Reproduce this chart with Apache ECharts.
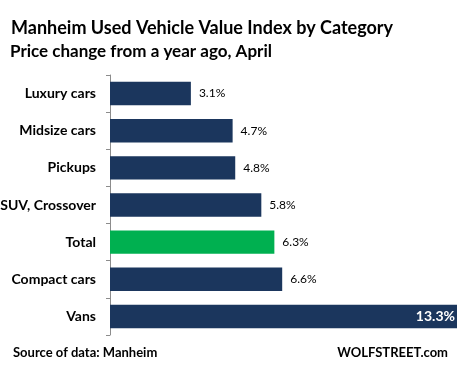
<!DOCTYPE html>
<html>
<head>
<meta charset="utf-8">
<script src="https://cdn.jsdelivr.net/npm/echarts@6/dist/echarts.min.js"></script>
<style>
  html, body { margin: 0; padding: 0; background: #fff; }
  #main { width: 467px; height: 376px; }
</style>
</head>
<body>
<div id="main"></div>
<script>
// categories top to bottom
var categories = ['Luxury cars', 'Midsize cars', 'Pickups', 'SUV, Crossover', 'Total', 'Compact cars', 'Vans'];
// price change from a year ago, %
var values = [3.1, 4.7, 4.8, 5.8, 6.3, 6.6, 13.3];
var highlight = 'Total';

var NAVY = '#1b365d';
var GREEN = '#00b050';
var FONT = 'Lato';

var chart = echarts.init(document.getElementById('main'));

var barData = values.map(function (v, i) {
    var item = { value: v, itemStyle: { color: categories[i] == highlight ? GREEN : NAVY } };
    // the longest bar carries its label inside, in white
    if (v == Math.max.apply(null, values)) {
        item.label = {
            position: 'insideRight', distance: 2,
            color: '#fff', fontWeight: 'bold', fontSize: 14
        };
    }
    return item;
});

chart.setOption({
    animation: false,
    textStyle: { fontFamily: FONT },
    title: [
        { text: 'Manheim Used Vehicle Value Index by Category', left: 6, top: 14,
          textStyle: { fontFamily: FONT, fontSize: 18, fontWeight: 'bold', color: '#000' } },
        { text: 'Price change from a year ago, April', left: 5, top: 38,
          textStyle: { fontFamily: FONT, fontSize: 17, fontWeight: 'bold', color: '#000' } },
        { text: 'Source of data: Manheim', left: 8, top: 341,
          textStyle: { fontFamily: FONT, fontSize: 13, fontWeight: 'bold', color: '#000' } },
        { text: 'WOLFSTREET.com', right: 14, top: 341,
          textStyle: { fontFamily: FONT, fontSize: 13, fontWeight: 'bold', color: '#000' } }
    ],
    grid: { left: 110, right: 10, top: 75, bottom: 41, outerBoundsMode: 'none', containLabel: false },
    xAxis: {
        type: 'value', min: 0, max: 13.3,
        show: false
    },
    yAxis: {
        type: 'category', data: categories, inverse: true,
        axisLine: { show: true, lineStyle: { color: '#8c8c8c', width: 1 } },
        axisTick: { show: true, length: 4, lineStyle: { color: '#8c8c8c' } },
        axisLabel: { fontFamily: FONT, fontSize: 14, fontWeight: 'bold', color: '#000', margin: 14 }
    },
    series: [{
        type: 'bar',
        data: barData,
        barCategoryGap: '37%',
        label: {
            show: true, position: 'right', distance: 8,
            fontFamily: FONT, fontSize: 12, color: '#000',
            formatter: function (p) { return p.value.toFixed(1) + '%'; }
        }
    }]
});
</script>
</body>
</html>
